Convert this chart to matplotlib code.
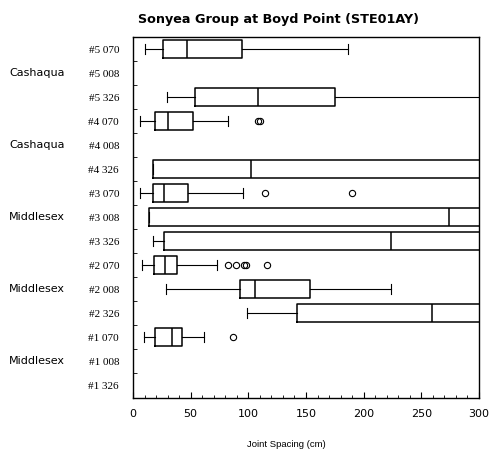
import numpy as np
import matplotlib.pyplot as plt
from matplotlib.transforms import blended_transform_factory

# rows from top to bottom
labels = ['#5 070', '#5 008', '#5 326', '#4 070', '#4 008', '#4 326',
          '#3 070', '#3 008', '#3 326', '#2 070', '#2 008', '#2 326',
          '#1 070', '#1 008', '#1 326']
groups = ['Cashaqua', 'Cashaqua', 'Middlesex', 'Middlesex', 'Middlesex']
group_rows = ['#5 008', '#4 008', '#3 008', '#2 008', '#1 008']

# box statistics (cm); None = no data; values past 300 run off the axis
whislo = [10, None, 29.5, 6.5, None, 17, 6.5, 13.5, 17.5, 8, 29, 98.5, 9.5, None, None]
q1     = [26, None, 54, 19, None, 17, 17, 13.5, 27, 18, 93, 142, 19, None, None]
med    = [47, None, 108, 30.5, None, 102, 27, 274, 223.5, 28, 106, 259, 33.5, None, None]
q3     = [94.5, None, 175, 52, None, 400, 47.5, 400, 400, 38.5, 153.5, 400, 42.5, None, None]
whishi = [186, None, 400, 82.5, None, 400, 95.5, 400, 400, 72.5, 224, 400, 61.5, None, None]
fliers = [[], [], [], [108, 110], [], [], [114.5, 190], [], [], [82, 89, 96, 98, 116],
          [], [], [87], [], []]

stats = []
positions = []
n = len(labels)
for i in range(n):
    if med[i] is None:
        continue
    stats.append(dict(whislo=whislo[i], q1=q1[i], med=med[i], q3=q3[i],
                      whishi=whishi[i], fliers=fliers[i]))
    positions.append(n - i)

fig = plt.figure(figsize=(4.91, 4.53), dpi=100)
ax = fig.add_axes([133/491, 55/453, 346/491, 361/453])

ax.bxp(stats, positions=positions, vert=False, widths=0.75, patch_artist=False,
       boxprops=dict(color='black', linewidth=1.1),
       medianprops=dict(color='black', linewidth=1.1),
       whiskerprops=dict(color='black', linewidth=0.8),
       capprops=dict(color='black', linewidth=0.8),
       flierprops=dict(marker='o', markerfacecolor='none', markeredgecolor='black',
                       markersize=4.5, markeredgewidth=0.8),
       capwidths=0.4)

ax.set_xlim(0, 300)
ax.set_ylim(0.46, 15.41)
ax.set_yticks(np.arange(n, 0, -1))
ax.set_yticklabels(labels, family='Liberation Serif', fontsize=8)
ax.set_xticks(np.arange(0, 301, 50))
ax.set_xticks(np.arange(0, 301, 10), minor=True)
ax.tick_params(axis='x', which='major', direction='in', length=4, labelsize=8, pad=8)
ax.tick_params(axis='x', which='minor', direction='in', length=2)
ax.tick_params(axis='y', which='major', length=0, pad=10)
ax.set_yticks(np.arange(n, 0, -1) + 0.5, minor=True)
ax.tick_params(axis='y', which='minor', direction='in', length=3)
for sp in ax.spines.values():
    sp.set_linewidth(1.0)

trans = blended_transform_factory(ax.transAxes, ax.transData)
for g, r in zip(groups, group_rows):
    ax.text(-0.277, n - labels.index(r), g, transform=trans, ha='center',
            va='center', fontsize=8)

ax.set_xlabel('Joint Spacing (cm)', family='Liberation Sans', fontsize=6.8)
ax.xaxis.set_label_coords((286 - 133) / 346, -(440 - 398) / 361)
fig.text(278/491, 1 - 19/453, 'Sonyea Group at Boyd Point (STE01AY)',
         ha='center', va='center', fontsize=9.2, fontweight='bold')

fig.savefig('out.png', dpi=100)
